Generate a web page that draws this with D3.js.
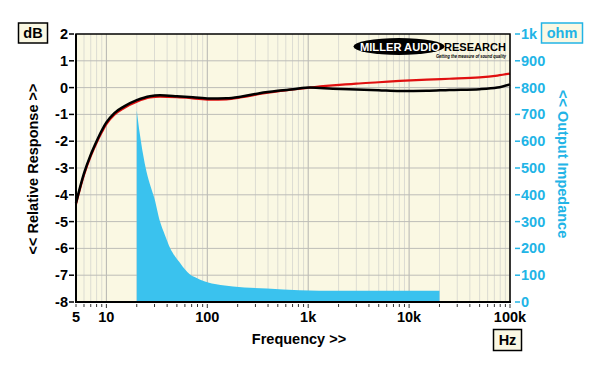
<!DOCTYPE html>
<html><head><meta charset="utf-8">
<script src="https://cdn.jsdelivr.net/npm/d3@7"></script>
<style>body{margin:0;background:#fff}svg{display:block}text{font-family:"Liberation Sans",Arial,sans-serif;font-weight:bold}</style>
</head><body><svg id="c" width="600" height="368"></svg>
<script>
// Frequency response (dB)
const respFreq = [5,6,7,8,9,10,12,15,20,27,34,50,72,105,155,220,330,500,710,1040,1750,3000,5000,8100,15000,25000,50000,75000,100000];
const respBlack = [-4.3,-3.2,-2.5,-2.0,-1.6,-1.3,-0.95,-0.7,-0.47,-0.32,-0.29,-0.32,-0.36,-0.41,-0.40,-0.33,-0.21,-0.12,-0.06,0.0,-0.04,-0.07,-0.10,-0.13,-0.12,-0.09,-0.06,0.0,0.12];
const respRed = [-4.35,-3.26,-2.56,-2.06,-1.67,-1.36,-1.01,-0.76,-0.53,-0.37,-0.34,-0.36,-0.40,-0.45,-0.44,-0.36,-0.24,-0.14,-0.07,0.0,0.08,0.15,0.2,0.25,0.3,0.33,0.38,0.45,0.52];
// Output impedance (ohm)
const impFreq = [20,21.5,23,25,27.5,30,34,38,43,48,54,60,67,75,84,100,123,180,390,820,2000,20000];
const impOhm = [715,625,555,486,430,385,300,250,200,170,145,122,104,93,84,74,66,58,50,44,42,42];
// Axis ticks
const xTickVals = [5,10,100,1000,10000,100000];
const xTickLabels = ["5","10","100","1k","10k","100k"];
const dbTicks = [2,1,0,-1,-2,-3,-4,-5,-6,-7,-8];
const ohmTicks = [1000,900,800,700,600,500,400,300,200,100,0];
const ohmTickLabels = ["1k","900","800","700","600","500","400","300","200","100","0"];

const svg = d3.select("#c");
const L=76,R=510,T=34,B=302;
const x = d3.scaleLog().domain([5,100000]).range([L,R]);
const y = d3.scaleLinear().domain([-8,2]).range([B,T]);
const y2 = d3.scaleLinear().domain([0,1000]).range([B,T]);
const cyan = "#22b4e6";

svg.append("rect").attr("x",L).attr("y",T).attr("width",R-L).attr("height",B-T).attr("fill","#faf8e3");

// grid
const minor=[], major=[];
for(let d=1; d<=100000; d*=10){ for(let k=1;k<10;k++){ const f=d*k; if(f<5||f>100000) continue; if(k===1) major.push(f); else minor.push(f);} }
svg.selectAll(".gmin").data(minor).join("line").attr("x1",d=>x(d)).attr("x2",d=>x(d)).attr("y1",T).attr("y2",B).attr("stroke","#dcdcd2").attr("stroke-width",1);
svg.selectAll(".gmaj").data(major).join("line").attr("x1",d=>x(d)).attr("x2",d=>x(d)).attr("y1",T).attr("y2",B).attr("stroke","#b4b4b0").attr("stroke-width",1);
svg.selectAll(".gh").data(dbTicks.slice(1,-1)).join("line").attr("x1",L).attr("x2",R).attr("y1",d=>y(d)).attr("y2",d=>y(d)).attr("stroke","#bdbdb8").attr("stroke-width",1);

// impedance area
const impData = impFreq.map((f,i)=>({f,v:impOhm[i]}));
const area = d3.area().x(d=>x(d.f)).y0(y2(0)).y1(d=>y2(d.v)).curve(d3.curveMonotoneX);
svg.append("path").datum(impData).attr("d",area).attr("fill","#3ac2ee");

// response lines
const line = d3.line().x(d=>x(d.f)).y(d=>y(d.v)).curve(d3.curveMonotoneX);
svg.append("path").datum(respFreq.map((f,i)=>({f,v:respRed[i]}))).attr("d",line).attr("fill","none").attr("stroke","#e01010").attr("stroke-width",2.2);
svg.append("path").datum(respFreq.map((f,i)=>({f,v:respBlack[i]}))).attr("d",line).attr("fill","none").attr("stroke","#000").attr("stroke-width",2.5);

// frame
svg.append("rect").attr("x",L).attr("y",T).attr("width",R-L).attr("height",B-T).attr("fill","none").attr("stroke","#000").attr("stroke-width",1.5);
svg.append("line").attr("x1",L).attr("x2",L).attr("y1",T).attr("y2",B+1).attr("stroke","#000").attr("stroke-width",2);
svg.append("line").attr("x1",L-1).attr("x2",R+1).attr("y1",B).attr("y2",B).attr("stroke","#000").attr("stroke-width",2);

// bottom ticks
svg.selectAll(".bt").data(minor.concat(major)).join("line").attr("x1",d=>x(d)).attr("x2",d=>x(d)).attr("y1",B+2).attr("y2",d=>major.includes(d)?B+6:B+5).attr("stroke","#333").attr("stroke-width",1);
svg.selectAll(".xl").data(xTickVals).join("text").attr("x",d=>x(d)).attr("y",322).attr("text-anchor","middle").attr("font-size",14.5).text((d,i)=>xTickLabels[i]);

// left ticks
svg.selectAll(".lt").data(dbTicks).join("line").attr("x1",L-7).attr("x2",L-2).attr("y1",d=>y(d)).attr("y2",d=>y(d)).attr("stroke","#000").attr("stroke-width",1.5);
svg.selectAll(".ll").data(dbTicks).join("text").attr("x",L-8).attr("y",d=>y(d)+5).attr("text-anchor","end").attr("font-size",14.5).text(d=>d);

// right ticks
svg.selectAll(".rt").data(ohmTicks).join("line").attr("x1",R+5).attr("x2",R+10).attr("y1",d=>y2(d)).attr("y2",d=>y2(d)).attr("stroke",cyan).attr("stroke-width",1.5);
svg.selectAll(".rl").data(ohmTicks).join("text").attr("x",R+11).attr("y",d=>y2(d)+5).attr("font-size",14.5).attr("fill",cyan).text((d,i)=>ohmTickLabels[i]);

// titles
svg.append("text").attr("transform","translate(38,169) rotate(-90)").attr("text-anchor","middle").attr("font-size",14.5).text("<< Relative Response >>");
svg.append("text").attr("transform","translate(558,90) rotate(90)").attr("text-anchor","start").attr("font-size",14.5).attr("fill",cyan).text("<< Output Impedance");
svg.append("text").attr("x",299).attr("y",344).attr("text-anchor","middle").attr("font-size",14.5).text("Frequency >>");

// boxes
function box(x0,y0,w,h,txt,col){
  svg.append("rect").attr("x",x0).attr("y",y0).attr("width",w).attr("height",h).attr("fill","#faf8e3").attr("stroke",col).attr("stroke-width",1.5);
  svg.append("text").attr("x",x0+w/2).attr("y",y0+h/2+5).attr("text-anchor","middle").attr("font-size",14.5).attr("fill",col).text(txt);
}
box(18.5,23,29,20,"dB","#000");
box(541.5,23,41,20,"ohm",cyan);
box(493.5,329.5,28,21,"Hz","#000");

// logo
svg.append("ellipse").attr("cx",399).attr("cy",46.5).attr("rx",45.5).attr("ry",8.5).attr("fill","#000");
svg.append("text").attr("x",360).attr("y",51).attr("font-size",11.5).attr("fill","#fff").attr("textLength",80).attr("lengthAdjust","spacingAndGlyphs").attr("font-family","DejaVu Sans").style("font-weight",900).text("MILLER AUDIO");
svg.append("text").attr("x",444).attr("y",51).attr("font-size",11.5).attr("fill","#000").attr("textLength",62).attr("lengthAdjust","spacingAndGlyphs").attr("font-family","DejaVu Sans").style("font-weight",900).text("RESEARCH");
svg.append("text").attr("x",436).attr("y",57.5).attr("font-size",5).attr("font-style","italic").attr("fill","#000").attr("textLength",70).attr("lengthAdjust","spacingAndGlyphs").text("Getting the measure of sound quality");
</script></body></html>
